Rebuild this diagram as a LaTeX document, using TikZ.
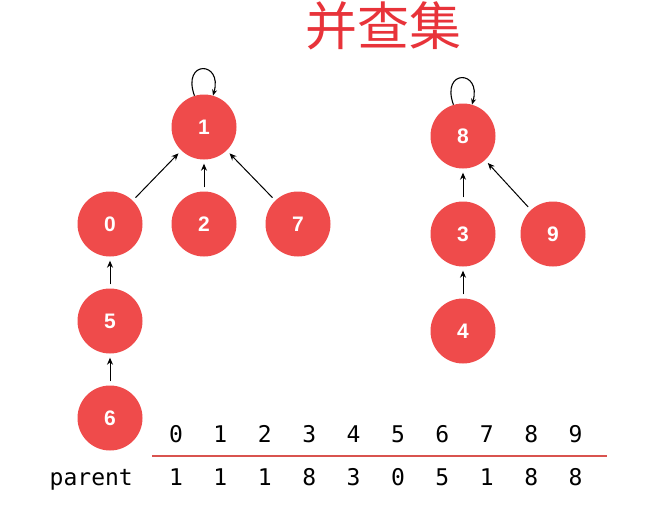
\documentclass[tikz,border=0pt]{standalone}
\usepackage{fontspec}
\newfontfamily\cjk{Noto Sans CJK SC}
\newfontfamily\monof{DejaVu Sans Mono}
\newfontfamily\nodef{Liberation Sans}
\usetikzlibrary{arrows.meta}
\definecolor{nodered}{HTML}{EF4B4B}
\definecolor{titlered}{HTML}{E8333A}
\definecolor{linered}{HTML}{D9534F}
\tikzset{
  uf/.style={circle, fill=nodered, minimum size=65pt, inner sep=0pt, text=white, font=\nodef\bfseries\fontsize{21}{21}\selectfont},
  par/.style={-{Stealth[length=7pt,width=6pt]}, line width=1pt, shorten >=4pt, shorten <=4pt},
  selfloop/.style={-{Stealth[length=6pt,width=5pt]}, line width=1.1pt},
  cell/.style={font=\monof\fontsize{23}{23}\selectfont, inner sep=0pt, anchor=base},
}
\begin{document}
\begin{tikzpicture}[x=1pt,y=-1pt]
\fill[white] (0,0) rectangle (651,504);
\useasboundingbox (0,0) rectangle (651,504);
\node[text=titlered, font=\cjk\fontsize{52}{52}\selectfont, inner sep=0pt] (title) at (383,26) {并查集};
% tree 1
\node[uf] (n1) at (204,127) {1};
\node[uf] (n0) at (110,224) {0};
\node[uf] (n2) at (204,224) {2};
\node[uf] (n7) at (298,224) {7};
\node[uf] (n5) at (110,321) {5};
\node[uf] (n6) at (110,418) {6};
% tree 2
\node[uf] (n8) at (463,136) {8};
\node[uf] (n3) at (463,234) {3};
\node[uf] (n9) at (553,234) {9};
\node[uf] (n4) at (463,331) {4};
\draw[par] (n0) -- (n1);
\draw[par] (n2) -- (n1);
\draw[par] (n7) -- (n1);
\draw[par] (n5) -- (n0);
\draw[par] (n6) -- (n5);
\draw[par] (n3) -- (n8);
\draw[par] (n9) -- (n8);
\draw[par] (n4) -- (n3);
\draw[selfloop] (n1.107) .. controls +(-13,-36) and +(10,-35) .. (n1.74);
\draw[selfloop] (n8.107) .. controls +(-13,-36) and +(10,-35) .. (n8.74);
% table
\foreach \i/\p [count=\k from 0] in {0/1,1/1,2/1,3/8,4/3,5/0,6/5,7/1,8/8,9/8} {
  \node[cell] (h\k) at (176+44.4*\k,442) {\i};
  \node[cell] (p\k) at (176+44.4*\k,485) {\p};
}
\node[cell, anchor=base east] (plab) at (133,485) {parent};
\coordinate (ls) at (152,456);
\coordinate (le) at (607,456);
\draw[linered, line width=1.2pt] (ls) -- (le);
\end{tikzpicture}
\end{document}
